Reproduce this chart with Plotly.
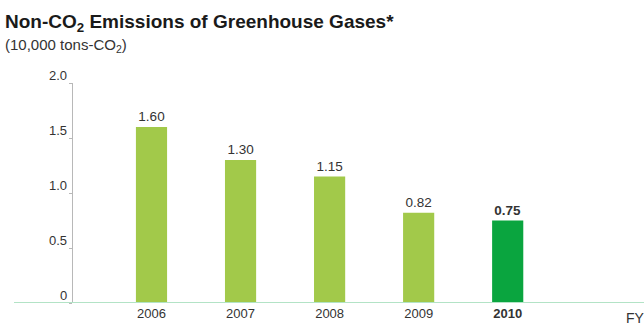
import plotly.graph_objects as go

# Fiscal years and non-CO2 greenhouse gas emissions (10,000 tons-CO2)
years = ["2006", "2007", "2008", "2009", "2010"]
emissions = [1.60, 1.30, 1.15, 0.82, 0.75]
y_ticks = [0, 0.5, 1.0, 1.5, 2.0]
y_tick_labels = ["0", "0.5", "1.0", "1.5", "2.0"]

W, H = 644, 324
L, R, T, B = 73, 0, 83, 21          # plot area margins in px
plot_w = W - L - R
plot_h = H - T - B

FONT = "Liberation Sans, Arial, Helvetica, sans-serif"
TXT = "#333333"
LIGHT = "#a2c94a"
DARK = "#0aa53f"

last = len(years) - 1
x_pos = list(range(len(years)))
colors = [DARK if i == last else LIGHT for i in x_pos]
labels = [f"<b>{v:.2f}</b>" if i == last else f"{v:.2f}" for i, v in enumerate(emissions)]
tick_text = [f"<b>{y}</b>" if i == last else y for i, y in enumerate(years)]

fig = go.Figure(
    go.Bar(
        x=x_pos,
        y=emissions,
        width=0.35,
        marker=dict(color=colors, line=dict(width=0)),
        text=labels,
        textposition="outside",
        textfont=dict(family=FONT, size=13.5, color=TXT),
        cliponaxis=False,
        hoverinfo="skip",
    )
)

# px -> data mapping along x: category 0 centred at 151.5 px, 89 px apart
px_per_unit = 89.05
x0 = -(151.5 - L) / px_per_unit
x1 = x0 + plot_w / px_per_unit

def paper_x(px):
    return (px - L) / plot_w

def paper_y(py):
    return (H - B - py) / plot_h

annotations = [
    dict(
        text="(10,000 tons-CO<sub>2</sub>)",
        xref="paper", yref="paper",
        x=paper_x(3), y=paper_y(45),
        xanchor="left", yanchor="middle",
        showarrow=False,
        font=dict(family=FONT, size=15, color=TXT),
    ),
    dict(
        text="FY",
        xref="paper", yref="paper",
        x=paper_x(624), y=paper_y(318),
        xanchor="left", yanchor="middle",
        showarrow=False,
        font=dict(family=FONT, size=14, color=TXT),
    ),
]
for v, t in zip(y_ticks, y_tick_labels):
    annotations.append(
        dict(
            text=t,
            xref="paper", yref="y",
            x=paper_x(69), y=v,
            xanchor="right", yanchor="middle",
            yshift=8,
            showarrow=False,
            font=dict(family=FONT, size=13, color=TXT),
        )
    )

fig.update_layout(
    width=W, height=H,
    margin=dict(l=L, r=R, t=T, b=B),
    paper_bgcolor="white",
    plot_bgcolor="white",
    showlegend=False,
    title=dict(
        text="Non-CO<sub>2</sub> Emissions of Greenhouse Gases*",
        xref="container", yref="container",
        x=5 / W, y=1 - 21 / H,
        xanchor="left", yanchor="middle",
        font=dict(family=FONT, size=19, color="#1a1a1a", weight="bold"),
    ),
    xaxis=dict(
        range=[x0, x1],
        tickvals=x_pos,
        ticktext=tick_text,
        tickfont=dict(family=FONT, size=13, color=TXT),
        showgrid=False, zeroline=False, showline=False,
        ticks="", ticklabelstandoff=1,
        fixedrange=True,
    ),
    yaxis=dict(
        range=[0, 2.0],
        tickvals=y_ticks,
        showticklabels=False,
        showgrid=False, zeroline=False,
        showline=True, linecolor="#b8b8b8", linewidth=1,
        ticks="outside", ticklen=3, tickcolor="#b8b8b8",
        fixedrange=True,
    ),
    annotations=annotations,
    shapes=[
        dict(
            type="line",
            xref="paper", yref="y",
            x0=paper_x(14), x1=paper_x(W),
            y0=0, y1=0,
            line=dict(color="#b3e3c6", width=2),
            layer="above",
        )
    ],
)

fig.write_html("out.html")
